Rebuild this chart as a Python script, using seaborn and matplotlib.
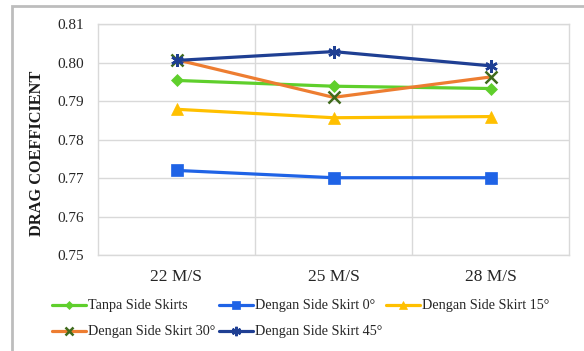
import matplotlib
matplotlib.use("Agg")
import matplotlib.pyplot as plt
from matplotlib.patches import Rectangle
import seaborn as sns
import pandas as pd

speeds = ["22 M/S", "25 M/S", "28 M/S"]
series_names = [
    "Tanpa Side Skirts",
    "Dengan Side Skirt 0°",
    "Dengan Side Skirt 15°",
    "Dengan Side Skirt 30°",
    "Dengan Side Skirt 45°",
]
tanpa = [0.7954, 0.7939, 0.7933]
skirt_0 = [0.7720, 0.7701, 0.7701]
skirt_15 = [0.7879, 0.7857, 0.7860]
skirt_30 = [0.8008, 0.7910, 0.7963]
skirt_45 = [0.8006, 0.8029, 0.7992]

values = [tanpa, skirt_0, skirt_15, skirt_30, skirt_45]
rows = []
for name, vals in zip(series_names, values):
    for i, v in enumerate(vals):
        rows.append({"pos": i, "Cd": v, "series": name})
df = pd.DataFrame(rows)

colors = {
    "Tanpa Side Skirts": "#5fcf2c",
    "Dengan Side Skirt 0°": "#1f63e6",
    "Dengan Side Skirt 15°": "#ffc000",
    "Dengan Side Skirt 30°": "#ed7d31",
    "Dengan Side Skirt 45°": "#1f3f93",
}
markers = {
    "Tanpa Side Skirts": "D",
    "Dengan Side Skirt 0°": "s",
    "Dengan Side Skirt 15°": "^",
    "Dengan Side Skirt 30°": "x",
    "Dengan Side Skirt 45°": (6, 2, 0),
}
msizes = {
    "Tanpa Side Skirts": 6,
    "Dengan Side Skirt 0°": 8,
    "Dengan Side Skirt 15°": 8,
    "Dengan Side Skirt 30°": 8,
    "Dengan Side Skirt 45°": 9,
}
medge = {
    "Tanpa Side Skirts": "#5fcf2c",
    "Dengan Side Skirt 0°": "#1f63e6",
    "Dengan Side Skirt 15°": "#ffc000",
    "Dengan Side Skirt 30°": "#3f6a1c",
    "Dengan Side Skirt 45°": "#1f3f93",
}
# legend anchor points (pixels from left / top) for each series entry
legend_slots = {
    "Tanpa Side Skirts": (52, 306),
    "Dengan Side Skirt 0°": (219, 306),
    "Dengan Side Skirt 15°": (386, 306),
    "Dengan Side Skirt 30°": (52, 332),
    "Dengan Side Skirt 45°": (219, 332),
}

sns.set_style("white")
plt.rcParams["font.family"] = ["Liberation Serif", "DejaVu Serif"]

W, H = 584, 351
fig = plt.figure(figsize=(W / 100, H / 100), dpi=100)
ax_left, ax_right, ax_top, ax_bottom = 98, 569, 24.3, 255
ax = fig.add_axes([ax_left / W, 1 - ax_bottom / H,
                   (ax_right - ax_left) / W, (ax_bottom - ax_top) / H])

for name in series_names:
    sub = df[df["series"] == name]
    sns.lineplot(
        data=sub, x="pos", y="Cd", ax=ax, color=colors[name], linewidth=2.3,
        marker=markers[name], markersize=msizes[name],
        markeredgecolor=medge[name], markerfacecolor=colors[name],
        markeredgewidth=1.8 if name in ("Dengan Side Skirt 30°", "Dengan Side Skirt 45°") else 0.5,
        label=name, zorder=3,
    )

ax.set_xlim(-0.5, 2.5)
ax.set_ylim(0.75, 0.81)
ax.set_yticks([0.75, 0.76, 0.77, 0.78, 0.79, 0.80, 0.81])
ax.set_yticklabels([f"{t:.2f}" for t in ax.get_yticks()], fontsize=11, color="#262626")
ax.set_xticks([0, 1, 2])
ax.set_xticklabels(speeds, fontsize=12.5, color="#262626")
ax.set_xticks([0.5, 1.5], minor=True)
ax.tick_params(axis="both", which="both", length=0)
ax.tick_params(axis="x", pad=10)
ax.tick_params(axis="y", pad=10)
ax.grid(axis="y", which="major", color="#d9d9d9", linewidth=1)
ax.grid(axis="x", which="minor", color="#d9d9d9", linewidth=1)
ax.grid(axis="x", which="major", visible=False)
for sp in ax.spines.values():
    sp.set_visible(True)
    sp.set_color("#d9d9d9")
    sp.set_linewidth(1)
ax.set_xlabel("")
ax.set_ylabel("DRAG COEFFICIENT", fontsize=11.8, fontweight="bold", color="#1a1a1a")
ax.yaxis.set_label_coords((45 - ax_left) / (ax_right - ax_left),
                          (ax_bottom - 153) / (ax_bottom - ax_top))

handles, labels = ax.get_legend_handles_labels()
lookup = dict(zip(labels, handles))
if ax.get_legend():
    ax.get_legend().remove()
for name in series_names:
    px, py = legend_slots[name]
    fig.legend(
        [lookup[name]], [name], frameon=False, loc="center left",
        bbox_to_anchor=(px / W, 1 - py / H), fontsize=10.2, handlelength=2.4,
        handletextpad=0.15, borderaxespad=0, borderpad=0, markerscale=0.75,
    )

fig.patches.append(Rectangle((12 / W, -0.1), 1.2, 1 - 5.7 / H + 0.1,
                             transform=fig.transFigure, fill=False,
                             edgecolor="#bdbdbd", linewidth=2, zorder=0))

fig.savefig("out.png", dpi=100)
